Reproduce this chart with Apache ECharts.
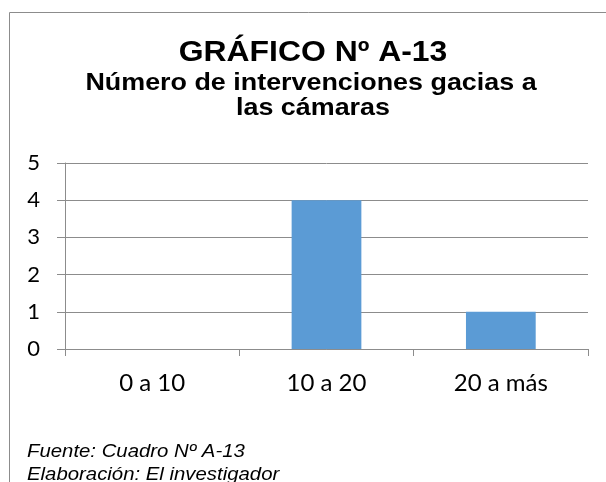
<!DOCTYPE html>
<html><head><meta charset="utf-8">
<script src="https://cdn.jsdelivr.net/npm/echarts@6/dist/echarts.min.js"></script>
<style>html,body{margin:0;padding:0;background:#fff}#c{width:606px;height:482px}</style>
</head><body><div id="c"></div>
<script>
const categories = ['0 a 10', '10 a 20', '20 a más'];
const values = [0, 4, 1];
const yTicks = [0, 1, 2, 3, 4, 5];
const titleText = 'GRÁFICO Nº A-13';
const subtitleLines = ['Número de intervenciones gacias a', 'las cámaras'];
const footerLines = ['Fuente: Cuadro Nº A-13', 'Elaboración: El investigador'];

function txt(x, y, text, font, align, sx) {
  return {
    type: 'text', x: x, y: y, scaleX: sx, silent: true,
    style: {x: 0, y: 0, text: text, font: font, fill: '#000',
            textAlign: align, textVerticalAlign: 'middle'}
  };
}

const chart = echarts.init(document.getElementById('c'), null, {renderer: 'canvas'});
chart.setOption({
  animation: false,
  backgroundColor: '#fff',
  graphic: [
    {type: 'rect', shape: {x: 9.5, y: 12.5, width: 800, height: 800},
     style: {fill: 'none', stroke: '#8c8c8c', lineWidth: 1}, silent: true},
    txt(313, 52.7, titleText, 'bold 29px "Liberation Sans"', 'center', 1.1),
    txt(311, 83.4, subtitleLines[0], 'bold 24px "Liberation Sans"', 'center', 1.12),
    txt(313, 108.5, subtitleLines[1], 'bold 24px "Liberation Sans"', 'center', 1.12),
    txt(27, 452.3, footerLines[0], 'italic 18.5px "Liberation Sans"', 'left', 1.1),
    txt(27, 474.5, footerLines[1], 'italic 18.5px "Liberation Sans"', 'left', 1.1)
  ],
  grid: {left: 65, right: 18, top: 163, bottom: 133, containLabel: false},
  xAxis: {
    type: 'category', data: categories,
    axisLine: {lineStyle: {color: '#8c8c8c', width: 1}},
    axisTick: {show: true, length: 7, alignWithLabel: false, lineStyle: {color: '#8c8c8c'}},
    axisLabel: {color: '#000', fontFamily: 'Lato', fontSize: 24, margin: 22}
  },
  yAxis: {
    type: 'value', min: yTicks[0], max: yTicks[yTicks.length - 1], interval: 1,
    axisLine: {show: true, lineStyle: {color: '#8c8c8c', width: 1}},
    axisTick: {show: true, length: 8, lineStyle: {color: '#8c8c8c'}},
    splitLine: {show: true, lineStyle: {color: '#8c8c8c', width: 1}},
    axisLabel: {color: '#000', fontFamily: 'Lato', fontSize: 22, margin: 25}
  },
  series: [{
    type: 'bar', data: values, barWidth: '40%',
    itemStyle: {color: '#5b9bd5'}
  }]
});
</script></body></html>
